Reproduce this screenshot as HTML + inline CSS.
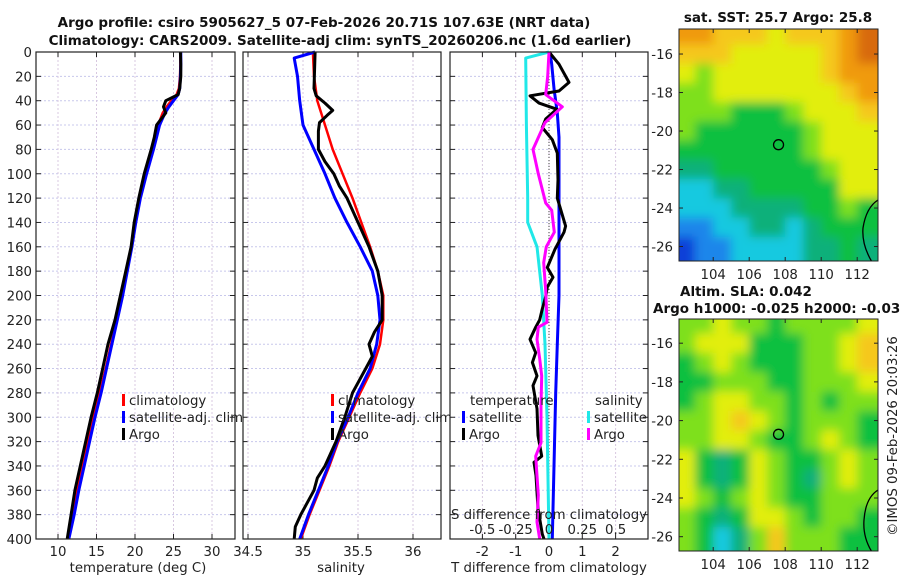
<!DOCTYPE html>
<html><head><meta charset="utf-8"><style>
body{margin:0;background:#fff;width:900px;height:580px;overflow:hidden}
svg{font-family:"DejaVu Sans","Liberation Sans",sans-serif}
.t{font-size:13.3px;fill:#222}
.b{font-weight:bold;fill:#111;font-size:13.5px}
</style></head><body>
<svg id="c" width="900" height="580" xmlns="http://www.w3.org/2000/svg">
<defs>
<filter id="blur" x="0" y="0" width="1" height="1"><feGaussianBlur stdDeviation="5"/></filter>
<clipPath id="m1c"><rect x="679" y="29" width="199" height="232"/></clipPath>
<clipPath id="m2c"><rect x="679" y="319" width="199" height="232"/></clipPath>
</defs>
<g id="g"></g>
<text class="t b" x="324" y="27" text-anchor="middle">Argo profile: csiro 5905627_5 07-Feb-2026 20.71S 107.63E (NRT data)</text>
<text class="t b" x="340" y="45" text-anchor="middle">Climatology: CARS2009. Satellite-adj clim: synTS_20260206.nc (1.6d earlier)</text>
<text class="t b" x="778" y="22" text-anchor="middle">sat. SST: 25.7 Argo: 25.8</text>
<text class="t b" x="680" y="296">Altim. SLA: 0.042</text>
<text class="t b" x="653" y="313">Argo h1000: -0.025 h2000: -0.037</text>
<text class="t" x="0" y="0" transform="translate(897,436) rotate(-90)" text-anchor="middle">©IMOS 09-Feb-2026 20:03:26</text>
<text class="t" x="138" y="572" text-anchor="middle">temperature (deg C)</text>
<text class="t" x="341" y="572" text-anchor="middle">salinity</text>
<text class="t" x="549" y="572" text-anchor="middle">T difference from climatology</text>
<text class="t" x="549" y="519" text-anchor="middle">S difference from climatology</text>
</svg>
<script>
const NS='http://www.w3.org/2000/svg';
const G=document.getElementById('g');
function mk(tag,at,parent){const e=document.createElementNS(NS,tag);for(const k in at)e.setAttribute(k,at[k]);(parent||G).appendChild(e);return e;}

// ---------- data ----------
const depthTicks=[0,20,40,60,80,100,120,140,160,180,200,220,240,260,280,300,320,340,360,380,400];
const tempTicks=[10,15,20,25,30];
const salTicks=[34.5,35,35.5,36];
const tdiffTicks=[-2,-1,0,1,2];
const sdiffTicks=[-0.5,-0.25,0,0.25,0.5];
const sdiffLabels=['-0.5','-0.25','0','0.25','0.5'];

const tDepth=[0,10,20,30,35,40,45,50,60,70,80,100,120,140,160,180,200,220,240,260,280,300,320,340,360,380,400];
const tClim=[25.9,25.9,25.85,25.7,25.4,24.7,24.1,23.6,23.0,22.6,22.2,21.3,20.6,20.0,19.5,18.9,18.3,17.6,16.9,16.2,15.4,14.6,13.9,13.2,12.5,11.9,11.2];
const tSat=[25.95,25.95,25.9,25.8,25.6,25.0,24.4,23.9,23.2,22.8,22.4,21.5,20.7,20.1,19.6,19.0,18.4,17.7,17.0,16.3,15.6,14.8,14.1,13.4,12.7,12.1,11.4];
const tArgo=[25.9,25.95,25.95,25.8,25.6,24.0,23.7,24.0,22.8,22.5,22.1,21.2,20.5,19.9,19.5,18.8,18.1,17.4,16.5,15.8,15.1,14.3,13.6,12.9,12.2,11.7,11.2];

const sDepthClim=[0,20,40,60,80,100,120,140,160,180,200,220,240,260,280,300,320,340,360,380,400];
const sClim=[35.09,35.1,35.13,35.2,35.27,35.36,35.45,35.53,35.61,35.68,35.73,35.73,35.7,35.63,35.52,35.42,35.32,35.24,35.15,35.06,34.98];
const sDepthSat=[0,5,20,40,60,80,100,120,140,160,180,200,220,240,260,280,300,320,340,360,380,400];
const sSat=[35.11,34.92,34.95,34.97,35.0,35.1,35.2,35.29,35.4,35.52,35.63,35.68,35.7,35.67,35.61,35.5,35.41,35.31,35.23,35.14,35.05,34.97];
const sDepthArgo=[0,30,36,42,48,52,58,65,80,90,100,110,120,140,160,180,200,220,230,240,250,260,280,300,320,340,350,360,380,390,400];
const sArgo=[35.11,35.1,35.12,35.2,35.27,35.22,35.15,35.14,35.14,35.2,35.28,35.33,35.4,35.5,35.6,35.68,35.72,35.72,35.65,35.6,35.63,35.57,35.45,35.38,35.3,35.2,35.13,35.1,34.98,34.93,34.92];

const dDepthT=[0,10,30,50,70,200,240,280,340,400];
const dTSat=[0.03,0.08,0.15,0.25,0.3,0.3,0.25,0.2,0.15,0.1];
const dDepthTA=[0,10,25,32,36,42,47,55,62,72,83,105,120,143,148,162,177,185,193,201,211,220,226,236,247,255,266,274,293,315,332,337,348,375,396,400];
const dTArgo=[0,0.3,0.6,0.3,-0.57,-0.3,0.23,-0.1,-0.2,0.1,0.25,0.27,0.25,0.5,0.45,0.18,-0.05,0.12,-0.05,-0.1,-0.2,-0.28,-0.4,-0.57,-0.4,-0.5,-0.36,-0.48,-0.36,-0.33,-0.22,-0.45,-0.39,-0.33,-0.2,-0.15];
const dDepthSS=[0,5,60,120,140,160,200,240,300,400];
const dSSat=[0,-0.175,-0.17,-0.16,-0.16,-0.09,-0.05,-0.03,-0.015,0];
const dDepthSA=[0,20,35,45,58,80,100,124,130,148,160,173,196,222,226,236,252,266,290,321,332,348,364,386,400];
const dSArgo=[0,-0.01,-0.025,0.1,-0.03,-0.12,-0.08,-0.025,0.02,0.04,-0.02,-0.04,-0.025,-0.015,-0.08,-0.09,-0.07,-0.055,-0.06,-0.06,-0.1,-0.09,-0.08,-0.09,-0.07];

// map grids: rows lat -15..-26 , cols lon 102.5..112.5 (colour classes 0..9)
const mapLats=[-15,-16,-17,-18,-19,-20,-21,-22,-23,-24,-25,-26];
const mapLons=[102.5,103.5,104.5,105.5,106.5,107.5,108.5,109.5,110.5,111.5,112.5];
const sstGrid=[
[8,8,7,7,7,6,7,7,7,8,9],[7,7,7,6,6,6,6,6,7,8,9],[6,5,6,6,6,6,6,6,7,8,8],[5,5,6,6,6,6,6,6,6,7,8],
[5,5,5,4,4,4,5,6,6,6,7],[5,4,4,4,4,4,4,5,6,6,6],[4,4,4,4,4,4,4,5,6,6,6],[3,3,4,4,4,4,4,4,5,6,6],
[2,2,3,3,4,4,4,4,4,6,6],[2,2,2,3,3,3,3,4,4,5,4],[1,1,2,2,3,3,2,3,4,4,4],[0,1,1,2,2,2,2,3,3,4,3]];
const slaGrid=[
[5,5,6,5,5,4,5,5,5,5,6],[5,6,6,6,4,4,4,5,5,6,7],[4,5,6,5,4,4,4,5,5,6,7],[4,4,5,5,5,4,4,5,5,5,6],
[4,5,6,6,5,5,4,5,4,5,5],[5,5,6,7,6,5,4,5,5,5,4],[5,5,6,6,5,4,4,5,6,5,4],[6,4,3,4,6,5,4,4,5,6,5],
[6,4,3,4,6,5,4,3,5,6,5],[6,5,4,5,6,5,4,4,5,5,5],[5,4,3,4,6,6,5,4,5,5,4],[5,4,2,3,5,7,5,5,5,4,4]];
const palette=['#0a3fd8','#1a86ea','#17c9e0','#0fb07a','#10c040','#7ee01a','#e2ee10','#f5c81a','#f09a10','#d86a08'];
const mapLatTicks=[-16,-18,-20,-22,-24,-26];
const mapLonTicks=[104,106,108,110,112];
const argoLon=107.63, argoLat=-20.71;

// ---------- scales ----------
const Y0=52,Y1=539;
const yD=d=>Y0+(Y1-Y0)*d/400;
const P1={x0:36,x1:235,v0:10-22/7.7,v1:10+177/7.7};
const P2={x0:243,x1:441,v0:34.5-5/110,v1:34.5+193/110};
const P3={x0:450,x1:648,v0:-99/33.3,v1:99/33.3};
const xs=(P,v)=>P.x0+(v-P.v0)/(P.v1-P.v0)*(P.x1-P.x0);

function panel(P,ticks,labels,name,leftLabels){
  mk('rect',{x:P.x0,y:Y0,width:P.x1-P.x0,height:Y1-Y0,fill:'#fff'});
  depthTicks.forEach(d=>{
    const y=yD(d);
    mk('line',{x1:P.x0,x2:P.x1,y1:y,y2:y,stroke:'#c8c8ec','stroke-dasharray':'2,2','stroke-width':1});
    mk('line',{x1:P.x0,x2:P.x0+5,y1:y,y2:y,stroke:'#222'});
    mk('line',{x1:P.x1-5,x2:P.x1,y1:y,y2:y,stroke:'#222'});
    if(leftLabels){const t=mk('text',{x:P.x0-4,y:y+5,'text-anchor':'end',class:'t'});t.textContent=d;
      
      }
  });
  ticks.forEach((v,i)=>{
    const x=xs(P,v);
    mk('line',{x1:x,x2:x,y1:Y0,y2:Y1,stroke:'#d8c8e0','stroke-dasharray':'2,2'});
    mk('line',{x1:x,x2:x,y1:Y1-5,y2:Y1,stroke:'#222'});
    mk('line',{x1:x,x2:x,y1:Y0,y2:Y0+5,stroke:'#222'});
    const t=mk('text',{x:x,y:556,'text-anchor':'middle',class:'t'});t.textContent=labels[i];
    
    
  });
}
function frame(P,name){const r=mk('rect',{x:P.x0,y:Y0,width:P.x1-P.x0,height:Y1-Y0,fill:'none',stroke:'#222','stroke-width':1.2});
  
  }
function line(P,vals,deps,col,w,name){
  const pts=vals.map((v,i)=>xs(P,v).toFixed(1)+','+yD(deps[i]).toFixed(1)).join(' ');
  const e=mk('polyline',{points:pts,fill:'none',stroke:col,'stroke-width':w,'stroke-linejoin':'round'});
  
  
}
function legend(x,y,items){
  items.forEach((it,i)=>{
    mk('rect',{x:x,y:y+i*17-11,width:3,height:12,fill:it[0]});
    const t=mk('text',{x:x+7,y:y+i*17,class:'t'});t.textContent=it[1];
    
    
  });
}

// panel 1
panel(P1,tempTicks,tempTicks.map(String),'temperature',true);
line(P1,tClim,tDepth,'#f00',2.5,'temperature-climatology-line');
line(P1,tSat,tDepth,'#00f',3,'temperature-satellite-line');
line(P1,tArgo,tDepth,'#000',3,'temperature-argo-line');
frame(P1,'temperature-plot-frame');
legend(122,405,[['#f00','climatology'],['#00f','satellite-adj. clim'],['#000','Argo']]);
// panel 2
panel(P2,salTicks,salTicks.map(String),'salinity',false);
line(P2,sClim,sDepthClim,'#f00',2.5,'salinity-climatology-line');
line(P2,sSat,sDepthSat,'#00f',3,'salinity-satellite-line');
line(P2,sArgo,sDepthArgo,'#000',3,'salinity-argo-line');
frame(P2,'salinity-plot-frame');
legend(331,405,[['#f00','climatology'],['#00f','satellite-adj. clim'],['#000','Argo']]);
// panel 3
panel(P3,tdiffTicks,tdiffTicks.map(String),'t-difference',false);
const P3s={x0:P3.x0,x1:P3.x1,v0:P3.v0/4,v1:P3.v1/4};
mk('line',{x1:xs(P3,0),x2:xs(P3,0),y1:Y0,y2:Y1,stroke:'#444','stroke-dasharray':'1,2'});
line(P3s,dSSat,dDepthSS,'#20e8e8',3,'s-diff-satellite-line');
line(P3,dTSat,dDepthT,'#00f',3,'t-diff-satellite-line');
line(P3,dTArgo,dDepthTA,'#000',3,'t-diff-argo-line');
line(P3s,dSArgo,dDepthSA,'#f0f',3,'s-diff-argo-line');
frame(P3,'difference-plot-frame');
sdiffTicks.forEach((v,i)=>{const t=mk('text',{x:xs(P3s,v),y:534,'text-anchor':'middle',class:'t'});t.textContent=sdiffLabels[i];
  
  });
{const t=mk('text',{x:470,y:405,class:'t'});t.textContent='temperature';
 
 }
{const t=mk('text',{x:595,y:405,class:'t'});t.textContent='salinity';
 
 }
legend(462,422,[['#00f','satellite'],['#000','Argo']]);
legend(587,422,[['#20e8e8','satellite'],['#f0f','Argo']]);

// maps
function map(M,grid,name,clip,coast){
  const lx=lon=>M.x0+(lon-M.lon0)*M.kx;
  const ly=lat=>M.y0+(M.lat0-lat)*M.ky;
  const g=mk('g',{'clip-path':'url(#'+clip+')'});
  const g2=mk('g',{filter:'url(#blur)'},g);
  mk('rect',{x:M.x0,y:M.y0,width:M.w,height:M.h,fill:palette[grid[5][5]]},g2);
  grid.forEach((row,r)=>row.forEach((c,k)=>{
    const cx=lx(mapLons[k]),cy=ly(mapLats[r]);
    const e=mk('rect',{x:cx-M.kx*0.5-(k==0?20:0),y:cy-M.ky*0.5-(r==0?20:0),width:M.kx+(k==0||k==10?20:0)+0.5,height:M.ky+(r==0||r==11?20:0)+0.5,fill:palette[c]},g2);
    
    
  }));
  mk('path',{d:coast,fill:'none',stroke:'#000','stroke-width':1.3},g);
  const ci=mk('circle',{cx:lx(argoLon),cy:ly(argoLat),r:5,fill:'none',stroke:'#000','stroke-width':1.3});
  
  
  const fr=mk('rect',{x:M.x0,y:M.y0,width:M.w,height:M.h,fill:'none',stroke:'#222'});
  
  
  mapLatTicks.forEach(v=>{const y=ly(v);
    mk('line',{x1:M.x0,x2:M.x0+4,y1:y,y2:y,stroke:'#222'});mk('line',{x1:M.x0+M.w-4,x2:M.x0+M.w,y1:y,y2:y,stroke:'#222'});
    const t=mk('text',{x:M.x0-6,y:y+5,'text-anchor':'end',class:'t'});t.textContent=v;
    
    });
  mapLonTicks.forEach(v=>{const x=lx(v);
    mk('line',{x1:x,x2:x,y1:M.y0+M.h-4,y2:M.y0+M.h,stroke:'#222'});mk('line',{x1:x,x2:x,y1:M.y0,y2:M.y0+4,stroke:'#222'});
    const t=mk('text',{x:x,y:M.y0+M.h+18,'text-anchor':'middle',class:'t'});t.textContent=v;
    
    });
}
map({x0:679,y0:29,w:199,h:232,lon0:102.1,lat0:-14.7,kx:18,ky:19.25},sstGrid,'sst-map','m1c',
 'M878,200 C870,205 865,215 863,228 C862,240 866,252 872,262');
map({x0:679,y0:319,w:199,h:232,lon0:102.1,lat0:-14.75,kx:18,ky:19.35},slaGrid,'sla-map','m2c',
 'M878,490 C870,495 865,505 864,520 C863,533 867,544 872,552');
</script>
</body></html>
